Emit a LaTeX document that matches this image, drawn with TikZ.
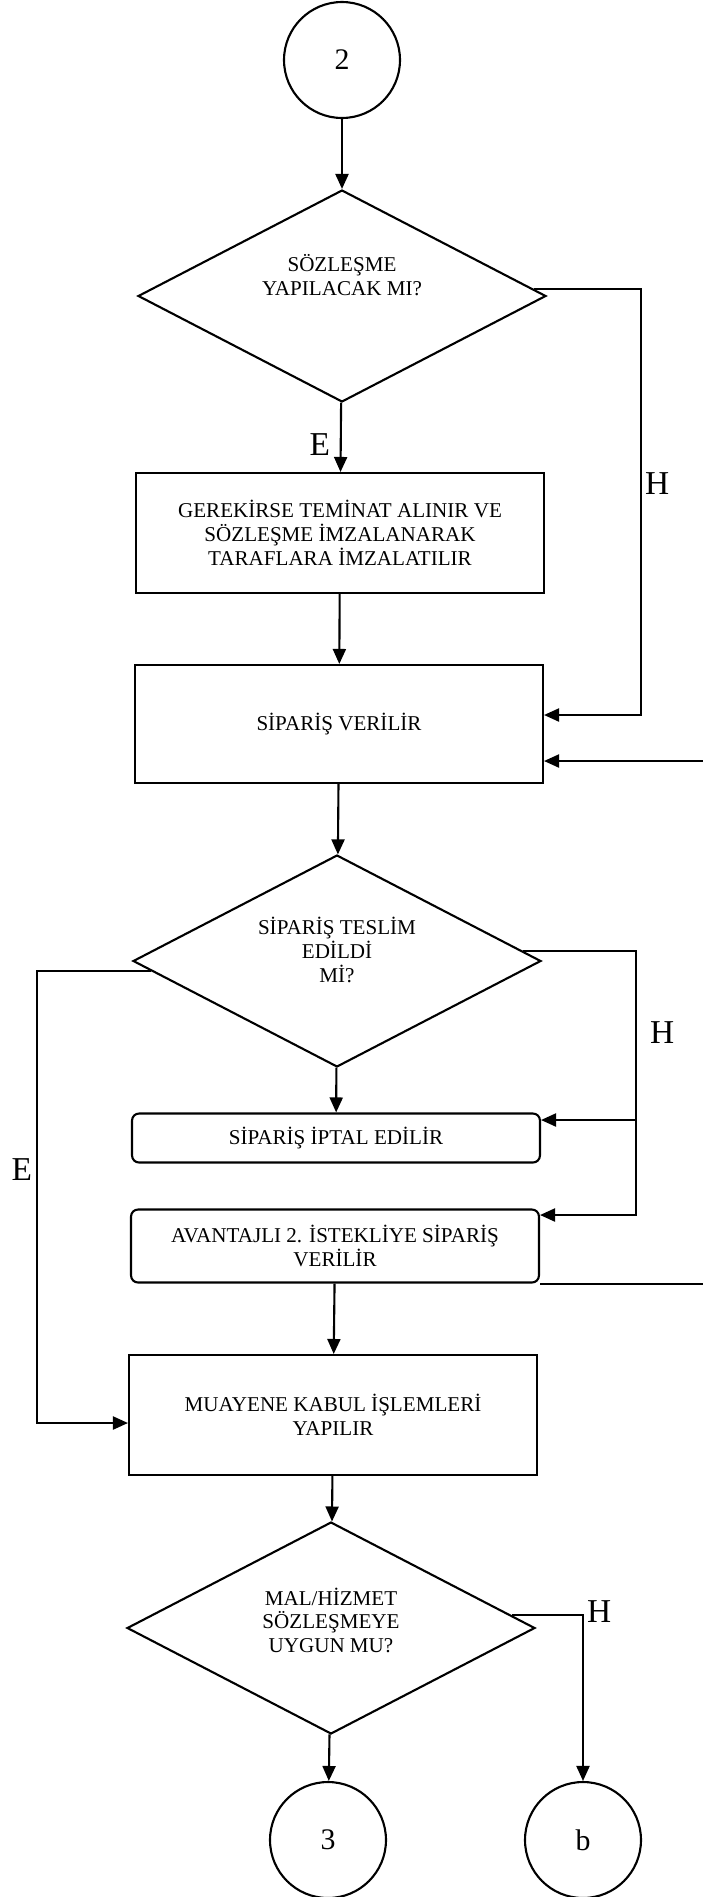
\documentclass[tikz,border=0pt]{standalone}
\usepackage{fontspec}
\setmainfont{Liberation Serif}
\usetikzlibrary{arrows.meta,shapes.geometric,calc}

\begin{document}
\begin{tikzpicture}[x=0.02cm,y=-0.02cm,line width=1.2pt,
		every node/.style={font=\fontsize{12}{13.5}\selectfont,align=center},
		box/.style={rectangle,draw,minimum width=8.16cm},
		rbox/.style={box,rounded corners=0.14cm},
		dec/.style={diamond,draw,aspect=1.9,minimum width=8.16cm,minimum height=4.24cm,inner sep=0pt},
		conn/.style={circle,draw,minimum size=2.32cm,font=\fontsize{17}{19}\selectfont},
		lbl/.style={inner sep=0pt,font=\fontsize{19}{21}\selectfont},
		arr/.style={-{Triangle[length=0.3cm,width=0.26cm]}}]
		\useasboundingbox (0,0) rectangle (703,1897);

		\node[conn] (c2) at (342,60) {2};
		\node[dec,text depth=0.85cm] (d1) at (342,296) {SÖZLEŞME\\YAPILACAK MI?};
		\node[box,minimum height=2.4cm] (b1) at (340,533) {GEREKİRSE TEMİNAT ALINIR VE\\SÖZLEŞME İMZALANARAK\\TARAFLARA İMZALATILIR};
		\node[box,minimum height=2.36cm] (b2) at (339,724) {SİPARİŞ VERİLİR};
		\node[dec,text depth=0.44cm] (d2) at (337,961) {SİPARİŞ TESLİM\\EDİLDİ\\Mİ?};
		\node[rbox,minimum height=0.98cm] (b3) at (336,1138) {SİPARİŞ İPTAL EDİLİR};
		\node[rbox,minimum height=1.46cm] (b4) at (335,1246) {AVANTAJLI 2. İSTEKLİYE SİPARİŞ\\VERİLİR};
		\node[box,minimum height=2.4cm] (b5) at (333,1415) {MUAYENE KABUL İŞLEMLERİ\\YAPILIR};
		\node[dec,text depth=0.32cm] (d3) at (331,1628) {MAL/HİZMET\\SÖZLEŞMEYE\\UYGUN MU?};
		\node[conn] (c3) at (328,1840) {3};
		\node[conn] (cb) at (583,1840) {b};

		\coordinate (h1) at (641,480);
		\coordinate (h2) at (636,1033);
		\coordinate (e2) at (37,1170);
		\coordinate (ret) at (720,1000);

		\draw[arr] (c2) -- (d1);
		\draw[arr] (d1) -- (b1);
		\draw[arr] (b1) -- (b2);
		\draw[arr] (b2) -- (d2);
		\draw[arr] (d2) -- (b3);
		\draw[arr] (b4) -- (b5);
		\draw[arr] (b5) -- (d3);
		\draw[arr] (d3) -- (c3);
		\draw[arr] (d1.2) -| (h1) |- ($(b2.east)+(0,-9)$);
		\draw[arr] (d2.3) -| (h2) |- ($(b3.east)+(0,-18)$);
		\draw[arr] (h2) |- ($(b4.east)+(0,-31)$);
		\draw[arr] (d2.183) -| (e2) |- ($(b5.west)+(0,8)$);
		\draw[arr] (b4.south east) -| (ret) |- ($(b2.east)+(0,37)$);
		\draw[arr] (d3.4) -| (cb);

		\node[lbl,anchor=east] (le1) at (331,445) {E};
		\node[lbl,anchor=west] (lh1) at (644,484) {H};
		\node[lbl,anchor=west] (lh2) at (649,1033) {H};
		\node[lbl,anchor=east] (le2) at (33,1170) {E};
		\node[lbl,anchor=west] (lh3) at (586,1612) {H};
	\end{tikzpicture}
\end{document}
